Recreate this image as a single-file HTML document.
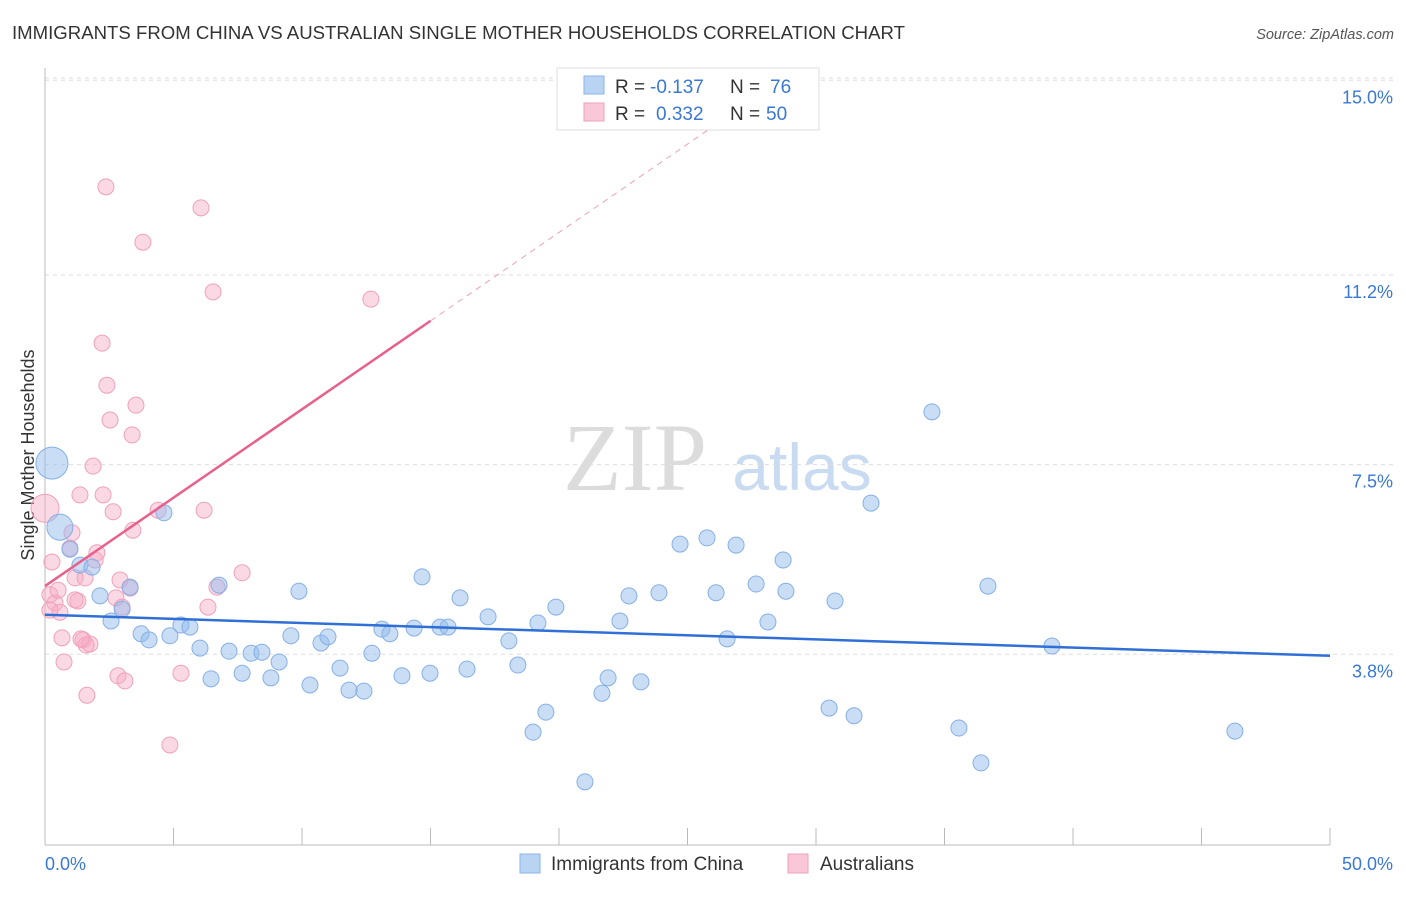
<!DOCTYPE html>
<html><head><meta charset="utf-8"><style>
body{margin:0;background:#fff;font-family:"Liberation Sans",sans-serif;}
svg text{font-family:"Liberation Sans",sans-serif;}
</style></head><body>
<svg id="c" width="1406" height="892" xmlns="http://www.w3.org/2000/svg">
<text x="12" y="39" font-size="18.6" fill="#333">IMMIGRANTS FROM CHINA VS AUSTRALIAN SINGLE MOTHER HOUSEHOLDS CORRELATION CHART</text>
<text x="1394" y="39" font-size="14.5" fill="#555" font-style="italic" text-anchor="end">Source: ZipAtlas.com</text>
<text transform="translate(34,455) rotate(-90)" font-size="18" fill="#333" text-anchor="middle">Single Mother Households</text>
<g>
<text x="635" y="490" font-size="96" fill="#dcdcdc" text-anchor="middle" style="font-family:'Liberation Serif',serif">ZIP</text>
<text x="802" y="490" font-size="66" fill="#c9dbf1" text-anchor="middle">atlas</text>
</g>
<g id="grid"></g><g id="axes"></g><g id="pts"></g><g id="trend"></g>
<g>
<rect x="557" y="68" width="262" height="62" fill="#fff" stroke="#ddd"/>
<rect x="584" y="76" width="20" height="18" fill="#b9d3f3" stroke="#8ab4e8"/>
<text x="615" y="93" font-size="19" fill="#333">R =</text>
<text x="650" y="93" font-size="19" fill="#3a78d4">-0.137</text>
<text x="730" y="93" font-size="19" fill="#333">N =</text>
<text x="770" y="93" font-size="19" fill="#3a78d4">76</text>
<rect x="584" y="103" width="20" height="18" fill="#f8c8d8" stroke="#f0a0bb"/>
<text x="615" y="120" font-size="19" fill="#333">R =</text>
<text x="656" y="120" font-size="19" fill="#3a78d4">0.332</text>
<text x="730" y="120" font-size="19" fill="#333">N =</text>
<text x="766" y="120" font-size="19" fill="#3a78d4">50</text>
</g>
<g>
<rect x="520" y="854" width="20" height="19" fill="#b9d3f3" stroke="#8ab4e8"/>
<text x="551" y="870" font-size="19" fill="#333">Immigrants from China</text>
<rect x="788" y="854" width="20" height="19" fill="#f8c8d8" stroke="#f0a0bb"/>
<text x="820" y="870" font-size="19" fill="#333">Australians</text>
</g>
</svg>
<script>
const yTicks=[3.8,7.5,11.2,15.0];
const yTickLabels=["3.8%","7.5%","11.2%","15.0%"];
const xTickLabels=["0.0%","50.0%"];
const chinaX=[0.27,0.58,0.97,1.36,1.83,2.14,2.57,3.00,3.31,3.74,4.05,4.63,4.86,5.29,5.64,6.03,6.46,6.77,7.16,7.67,8.02,8.44,8.79,9.11,9.57,9.88,10.31,10.74,11.01,11.48,11.83,12.41,12.72,13.11,13.42,13.89,14.36,14.67,14.98,15.37,15.68,16.15,16.42,17.24,18.05,18.40,18.99,19.18,19.49,19.88,21.01,21.67,21.91,22.37,22.72,23.19,23.89,24.71,25.76,26.11,26.54,26.89,27.67,28.13,28.72,28.83,30.51,30.74,31.48,32.14,34.51,35.56,36.42,36.69,39.18,46.30];
const chinaY=[7.53,6.28,5.85,5.54,5.50,4.94,4.45,4.68,5.11,4.20,4.08,6.56,4.16,4.37,4.33,3.92,3.32,5.15,3.86,3.43,3.82,3.84,3.34,3.65,4.16,5.03,3.20,4.02,4.14,3.53,3.10,3.08,3.82,4.29,4.20,3.38,4.31,5.31,3.43,4.33,4.33,4.90,3.51,4.53,4.06,3.59,2.28,4.41,2.67,4.72,1.31,3.04,3.34,4.45,4.94,3.26,5.00,5.95,6.07,5.00,4.10,5.93,5.17,4.43,5.64,5.03,2.75,4.84,2.60,6.75,8.53,2.36,1.68,5.13,3.96,2.30];
const ausX=[0,0.27,0.19,0.39,0.58,0.66,0.74,0.97,1.05,1.17,1.28,1.36,1.48,1.56,1.63,1.75,1.87,2.02,2.22,2.26,2.37,2.41,2.53,2.65,2.76,2.84,2.92,3.00,3.11,3.31,3.39,3.42,3.54,3.81,4.40,4.86,5.29,6.07,6.19,6.34,6.54,6.69,7.67,12.68,1.17,1.95,0.51,1.60,0.19,1.40];
const ausY=[6.65,5.60,4.96,4.80,4.62,4.12,3.65,5.87,6.17,5.29,4.84,6.91,4.08,5.29,3.00,4.00,7.47,5.78,9.87,6.91,12.92,9.05,8.37,6.58,4.90,3.38,5.25,4.72,3.28,5.09,8.08,6.22,8.66,11.84,6.61,2.03,3.43,12.51,6.61,4.72,10.87,5.11,5.39,10.73,4.86,5.64,5.05,3.98,4.66,4.10];
const chinaTrend=[4.57,3.77];
const ausTrend=[5.13,0.345];
const NS="http://www.w3.org/2000/svg";
const X=v=>45+v*25.7, Y=v=>849-v*51.25;
function mk(t,a,p){const e=document.createElementNS(NS,t);for(const k in a)e.setAttribute(k,a[k]);document.getElementById(p).appendChild(e);return e;}
yTicks.forEach((t,i)=>{
 const l=mk('line',{x1:45,x2:1394,y1:Y(t),y2:Y(t),stroke:'#ddd','stroke-dasharray':'4,4'},'grid');
 
 
 const tx=mk('text',{x:1393,y:Y(t)+23,'font-size':18,fill:'#3a78d4','text-anchor':'end'},'axes');
 tx.textContent=yTickLabels[i];
 
 
});
const topLine=mk('line',{x1:45,x2:1394,y1:78,y2:78,stroke:'#ddd','stroke-dasharray':'4,4'},'grid');


const ya=mk('line',{x1:45,x2:45,y1:68,y2:845,stroke:'#bbb'},'axes');


const xa=mk('line',{x1:45,x2:1330,y1:845,y2:845,stroke:'#bbb'},'axes');


for(let i=0;i<=10;i++){const tk=mk('line',{x1:X(i*5),x2:X(i*5),y1:828,y2:845,stroke:'#bbb'},'axes');
 
 }
xTickLabels.forEach((s,i)=>{const t=mk('text',{x:i?1393:45,y:870,'font-size':18,fill:'#3a78d4','text-anchor':i?'end':'start'},'axes');t.textContent=s;
 
 });
ausX.forEach((x,i)=>{const r=i==0?14:8;const c=mk('circle',{cx:X(x),cy:Y(ausY[i]),r:r,fill:'rgba(246,170,196,0.45)',stroke:'#f0a0bb','stroke-width':1},'pts');
 
 });
chinaX.forEach((x,i)=>{const r=i==0?16:(i==1?13:8);const c=mk('circle',{cx:X(x),cy:Y(chinaY[i]),r:r,fill:'rgba(147,187,235,0.5)',stroke:'#86b0e6','stroke-width':1},'pts');
 
 });
const bt=mk('line',{x1:X(0),y1:Y(chinaTrend[0]),x2:X(50),y2:Y(chinaTrend[1]),stroke:'#2f6fd6','stroke-width':2.5},'trend');


const pt=mk('line',{x1:X(0),y1:Y(ausTrend[0]),x2:X(15),y2:Y(ausTrend[0]+15*ausTrend[1]),stroke:'#e8608c','stroke-width':2.5},'trend');


const xe=(14.7-ausTrend[0])/ausTrend[1];
const pd=mk('line',{x1:X(15),y1:Y(ausTrend[0]+15*ausTrend[1]),x2:X(xe),y2:Y(14.7),stroke:'#f0a0bb','stroke-width':1,'stroke-dasharray':'6,5'},'trend');


</script>
</body></html>
